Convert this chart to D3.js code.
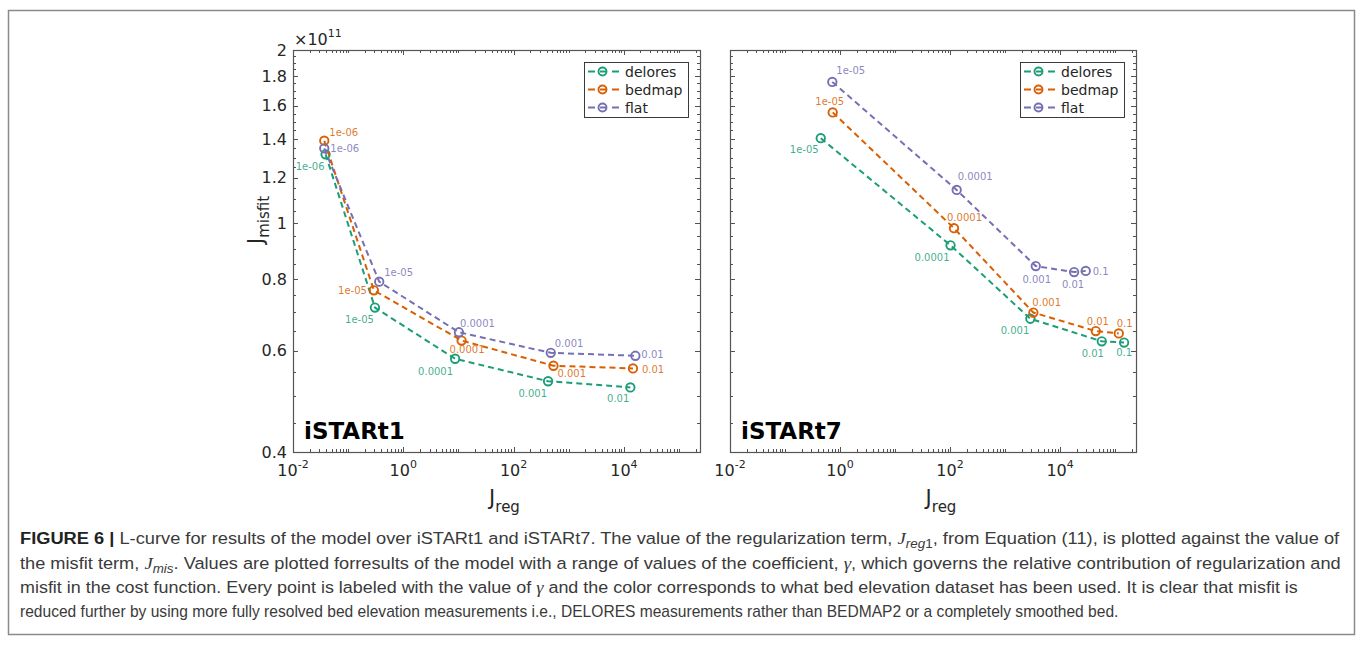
<!DOCTYPE html>
<html>
<head>
<meta charset="utf-8">
<script src="https://cdn.jsdelivr.net/npm/d3@7"></script>
<style>
  html, body { margin: 0; padding: 0; background: #fff; }
  svg { display: block; }
</style>
</head>
<body>
<svg id="fig" width="1358" height="662"></svg>
<script>
// ---- data (misfit values in units of 1e11) ----
const seriesNames  = ["delores", "bedmap", "flat"];
const seriesColors = ["#1b9e77", "#d95f02", "#7570b3"];

const t1Gamma = ["1e-06", "1e-05", "0.0001", "0.001", "0.01"];
const t1DeloresReg = [0.039, 0.306, 8.7, 422, 13100];
const t1DeloresMis = [1.317, 0.713, 0.581, 0.531, 0.518];
const t1BedmapReg  = [0.0369, 0.293, 11.4, 528, 14600];
const t1BedmapMis  = [1.391, 0.764, 0.625, 0.565, 0.559];
const t1FlatReg    = [0.0369, 0.366, 10.2, 472, 16150];
const t1FlatMis    = [1.349, 0.791, 0.646, 0.595, 0.588];

const t7Gamma = ["1e-05", "0.0001", "0.001", "0.01", "0.1"];
const t7DeloresReg = [0.446, 102, 2884, 57300, 145800];
const t7DeloresMis = [1.405, 0.915, 0.682, 0.623, 0.620];
const t7BedmapReg  = [0.736, 118, 3270, 44560, 116700];
const t7BedmapMis  = [1.558, 0.980, 0.699, 0.649, 0.643];
const t7FlatReg    = [0.724, 132, 3614, 17990, 29300];
const t7FlatMis    = [1.760, 1.142, 0.842, 0.822, 0.826];

const yTickValues = [0.4, 0.6, 0.8, 1, 1.2, 1.4, 1.6, 1.8, 2];
const yTickLabels = ["0.4", "0.6", "0.8", "1", "1.2", "1.4", "1.6", "1.8", "2"];
const xLabelExponents = [-2, 0, 2, 4];

const svg = d3.select("#fig");
const axisColor = "#262626";
const tickFont = "DejaVu Sans, sans-serif";

// outer figure frame
svg.append("rect")
  .attr("x", 8.5).attr("y", 10.5).attr("width", 1346).attr("height", 624)
  .attr("fill", "none").attr("stroke", "#8a8a8a").attr("stroke-width", 1.5);

function drawPanel(cfg) {
  const x = d3.scaleLog().domain([1e-2, 2.4e5]).range([cfg.left, cfg.right]);
  const y = d3.scaleLog().domain([0.4, 2]).range([452, 50]);
  const g = svg.append("g");

  // log minor / major ticks along x (top and bottom, inward)
  const xTicks = [];
  for (let e = -2; e <= 5; e++) {
    for (let m = 1; m <= 9; m++) {
      const v = m * Math.pow(10, e);
      if (v >= x.domain()[0] && v <= x.domain()[1]) xTicks.push({ v, major: m === 1 && e % 2 === 0 });
    }
  }
  xTicks.forEach(t => {
    const px = Math.round(x(t.v)) + 0.5;
    const len = t.major ? 5 : 3;
    g.append("line").attr("x1", px).attr("x2", px).attr("y1", 452).attr("y2", 452 - len)
      .attr("stroke", axisColor).attr("stroke-width", 0.8);
    g.append("line").attr("x1", px).attr("x2", px).attr("y1", 50).attr("y2", 50 + len)
      .attr("stroke", axisColor).attr("stroke-width", 0.8);
  });

  // y ticks (left and right, inward)
  const yMinor = d3.range(0.45, 2.0, 0.05).map(v => +v.toFixed(2));
  yMinor.forEach(v => {
    const major = yTickValues.some(t => Math.abs(t - v) < 1e-6);
    const py = Math.round(y(v)) + 0.5;
    const len = major ? 5 : 3;
    g.append("line").attr("x1", cfg.left).attr("x2", cfg.left + len).attr("y1", py).attr("y2", py)
      .attr("stroke", axisColor).attr("stroke-width", 0.8);
    g.append("line").attr("x1", cfg.right).attr("x2", cfg.right - len).attr("y1", py).attr("y2", py)
      .attr("stroke", axisColor).attr("stroke-width", 0.8);
  });

  // axes box
  g.append("rect")
    .attr("x", cfg.left + 0.5).attr("y", 50.5)
    .attr("width", cfg.right - cfg.left).attr("height", 402)
    .attr("fill", "none").attr("stroke", "#555").attr("stroke-width", 1.2);

  // x tick labels: 10^k
  xLabelExponents.forEach(e => {
    const t = g.append("text")
      .attr("x", x(Math.pow(10, e))).attr("y", 476)
      .attr("text-anchor", "middle")
      .attr("font-family", tickFont).attr("font-size", 16).attr("fill", axisColor);
    t.append("tspan").text("10");
    t.append("tspan").attr("dy", -8).attr("font-size", 11).text(String(e));
  });

  // y tick labels (left panel only)
  if (cfg.yLabels) {
    yTickValues.forEach((v, i) => {
      g.append("text")
        .attr("x", cfg.left - 6).attr("y", y(v))
        .attr("dy", "0.36em")
        .attr("text-anchor", "end")
        .attr("font-family", tickFont).attr("font-size", 16).attr("fill", axisColor)
        .text(yTickLabels[i]);
    });
    const ex = g.append("text").attr("x", cfg.left + 1).attr("y", 45)
      .attr("font-family", tickFont).attr("font-size", 16).attr("fill", axisColor);
    ex.append("tspan").text("\u00d710");
    ex.append("tspan").attr("dy", -8).attr("font-size", 11).text("11");

    const yl = g.append("text")
      .attr("transform", `translate(263,220) rotate(-90)`)
      .attr("text-anchor", "middle")
      .attr("font-family", tickFont).attr("font-size", 21).attr("fill", axisColor);
    yl.append("tspan").text("J");
    yl.append("tspan").attr("dy", 6).attr("font-size", 15).text("misfit");
  }

  // x axis label
  const xl = g.append("text")
    .attr("x", (cfg.left + cfg.right) / 2 + 8).attr("y", 505)
    .attr("text-anchor", "middle")
    .attr("font-family", tickFont).attr("font-size", 21).attr("fill", axisColor);
  xl.append("tspan").text("J");
  xl.append("tspan").attr("dy", 7).attr("font-size", 15).text("reg");

  // panel title
  g.append("text")
    .attr("x", cfg.left + 11).attr("y", 439)
    .attr("font-family", "DejaVu Sans, sans-serif").attr("font-weight", "bold")
    .attr("font-size", 23).attr("fill", "#000")
    .text(cfg.title);

  // series
  const line = d3.line().x(d => x(d.reg)).y(d => y(d.mis));
  cfg.series.forEach((s, si) => {
    const pts = s.reg.map((r, i) => ({ reg: r, mis: s.mis[i], label: cfg.gamma[i] }));
    const color = seriesColors[si];
    g.append("path").datum(pts)
      .attr("d", line).attr("fill", "none")
      .attr("stroke", color).attr("stroke-width", 2)
      .attr("stroke-dasharray", "6,4");
    g.selectAll(null).data(pts).enter().append("circle")
      .attr("cx", d => x(d.reg)).attr("cy", d => y(d.mis)).attr("r", 4.2)
      .attr("fill", "none").attr("stroke", color).attr("stroke-width", 1.9);
    const place = cfg.labelPlace[si];
    g.selectAll(null).data(pts).enter().append("text")
      .attr("x", (d, i) => x(d.reg) + place[i][0])
      .attr("y", (d, i) => y(d.mis) + place[i][1])
      .attr("dominant-baseline", "central")
      .attr("text-anchor", (d, i) => place[i][2])
      .attr("font-family", tickFont).attr("font-size", 10)
      .attr("fill", color).attr("fill-opacity", 0.85)
      .text(d => d.label);
  });

  // legend
  const lg = g.append("g").attr("transform", `translate(${cfg.legendX},62)`);
  lg.append("rect").attr("x", 0.5).attr("y", 0.5).attr("width", 104).attr("height", 55)
    .attr("fill", "#fff").attr("stroke", axisColor).attr("stroke-width", 0.9);
  seriesNames.forEach((n, i) => {
    const cy = 9.5 + i * 18;
    lg.append("line").attr("x1", 4).attr("x2", 35).attr("y1", cy).attr("y2", cy)
      .attr("stroke", seriesColors[i]).attr("stroke-width", 2).attr("stroke-dasharray", "7,5");
    lg.append("circle").attr("cx", 18.5).attr("cy", cy).attr("r", 4)
      .attr("fill", "none").attr("stroke", seriesColors[i]).attr("stroke-width", 1.9);
    lg.append("text").attr("x", 41).attr("y", cy).attr("dy", "0.36em")
      .attr("font-family", tickFont).attr("font-size", 14).attr("fill", axisColor)
      .text(n);
  });
}

drawPanel({
  left: 293, right: 700, title: "iSTARt1", yLabels: true, legendX: 584,
  gamma: t1Gamma,
  series: [
    { reg: t1DeloresReg, mis: t1DeloresMis },
    { reg: t1BedmapReg,  mis: t1BedmapMis },
    { reg: t1FlatReg,    mis: t1FlatMis }
  ],
  labelPlace: [
    [[-1, 12, "end"], [-1, 12, "end"], [-2, 13, "end"], [-1, 12, "end"], [-1, 11, "end"]],
    [[5, -8, "start"], [-7, 0, "end"], [-12, 9, "start"], [4, 8, "start"], [9, 1, "start"]],
    [[6, 0, "start"], [5, -9, "start"], [1, -9, "start"], [4, -9, "start"], [6, -1, "start"]]
  ]
});

drawPanel({
  left: 730, right: 1136, title: "iSTARt7", yLabels: false, legendX: 1020,
  gamma: t7Gamma,
  series: [
    { reg: t7DeloresReg, mis: t7DeloresMis },
    { reg: t7BedmapReg,  mis: t7BedmapMis },
    { reg: t7FlatReg,    mis: t7FlatMis }
  ],
  labelPlace: [
    [[-2, 11, "end"], [-1, 12, "end"], [-1, 12, "end"], [-9, 12, "middle"], [0, 10, "middle"]],
    [[-3, -11, "middle"], [-7, -11, "start"], [-1, -10, "start"], [2, -10, "middle"], [-2, -10, "start"]],
    [[4, -11, "start"], [1, -13, "start"], [1, 13, "middle"], [-1, 12, "middle"], [7, 1, "start"]]
  ]
});

// ---- caption ----
// each line: list of runs [text, style]; b=bold, m=math italic, s=italic subscript, n=upright subscript
const captionLines = [
  { y: 544, width: 1321, runs: [
    ["FIGURE 6 |", "b"],
    [" L-curve for results of the model over iSTARt1 and iSTARt7. The value of the regularization term, ", ""],
    ["J", "m"], ["reg", "s"], ["1", "n"],
    [", from Equation (11), is plotted against the value of", ""]
  ]},
  { y: 569, width: 1321, runs: [
    ["the misfit term, ", ""], ["J", "m"], ["mis", "s"],
    [". Values are plotted forresults of the model with a range of values of the coefficient, ", ""],
    ["\u03b3", "m"],
    [", which governs the relative contribution of regularization and", ""]
  ]},
  { y: 593, width: 1278, runs: [
    ["misfit in the cost function. Every point is labeled with the value of ", ""],
    ["\u03b3", "m"],
    [" and the color corresponds to what bed elevation dataset has been used. It is clear that misfit is", ""]
  ]},
  { y: 617, width: 1099, runs: [
    ["reduced further by using more fully resolved bed elevation measurements i.e., DELORES measurements rather than BEDMAP2 or a completely smoothed bed.", ""]
  ]}
];

// the caption face is condensed: each line is squeezed horizontally to its set width
captionLines.forEach(line => {
  const t = svg.append("text")
    .attr("x", 0).attr("y", 0)
    .attr("font-family", "Liberation Sans, Arial, sans-serif")
    .attr("font-size", 17).attr("fill", "#3a3a3a");
  let shifted = false;
  line.runs.forEach(([txt, st]) => {
    const sp = t.append("tspan").text(txt);
    if (st === "b") sp.attr("font-weight", "bold").attr("fill", "#222");
    if (st === "m") {
      sp.attr("font-family", "Liberation Serif, DejaVu Serif, serif").attr("font-style", "italic").attr("font-size", 17.5);
      if (shifted) { sp.attr("dy", -4); shifted = false; }
    }
    if (st === "s" || st === "n") {
      if (!shifted) { sp.attr("dy", 4); shifted = true; }
      sp.attr("font-size", 12.5);
      if (st === "s") sp.attr("font-style", "italic");
    }
    if ((st === "" || st === "b") && shifted) {
      sp.attr("dy", -4); shifted = false;
    }
  });
  const w = t.node().getComputedTextLength();
  t.attr("transform", `translate(20,${line.y}) scale(${line.width / w},1)`);
});
</script>
</body>
</html>
